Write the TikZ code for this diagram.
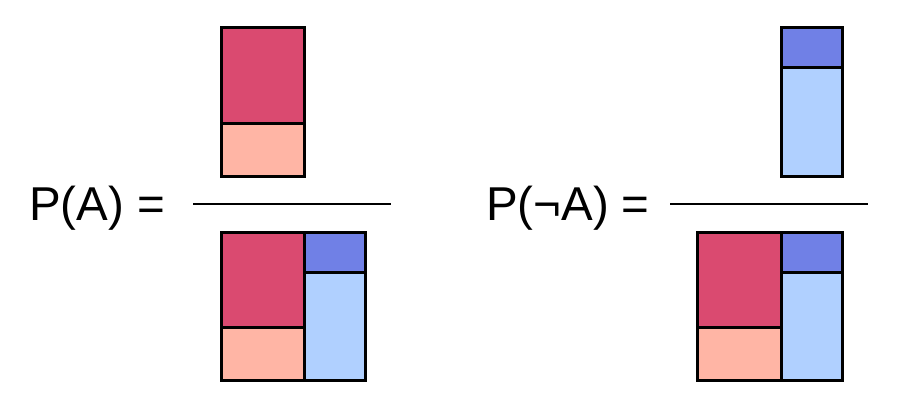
\documentclass[tikz,border=0pt]{standalone}
\usepackage{fontspec}
\setmainfont{Liberation Sans}
\definecolor{cred}{HTML}{DA4A70}
\definecolor{csal}{HTML}{FFB5A5}
\definecolor{cblue}{HTML}{7080E6}
\definecolor{clblue}{HTML}{B0D0FF}
\begin{document}
\begin{tikzpicture}[x=1pt,y=-1pt,
  cell/.style={draw=black,line width=3pt},
  lbl/.style={inner sep=0pt,anchor=base west,font=\fontsize{47.5}{55}\selectfont},
  frac/.style={line width=2.5pt}]
\useasboundingbox (0,0) rectangle (910,412);
% left fraction
\node[lbl] (la) at (29,220) {P(A) =};
\filldraw[cell,fill=cred] (221,28) rectangle (304,123);
\filldraw[cell,fill=csal] (221,123) rectangle (304,176);
\coordinate (l1) at (193,204);
\coordinate (l2) at (391,204);
\draw[frac] (l1) -- (l2);
\filldraw[cell,fill=cred] (221,232) rectangle (304,327);
\filldraw[cell,fill=csal] (221,327) rectangle (304,380);
\filldraw[cell,fill=cblue] (304,232) rectangle (365,272);
\filldraw[cell,fill=clblue] (304,272) rectangle (365,380);
% right fraction
\node[lbl] (ra) at (486,220) {P(¬A)\hspace{-1pt} =};
\filldraw[cell,fill=cblue] (781,28) rectangle (842,68);
\filldraw[cell,fill=clblue] (781,68) rectangle (842,176);
\coordinate (r1) at (670,204);
\coordinate (r2) at (868,204);
\draw[frac] (r1) -- (r2);
\filldraw[cell,fill=cred] (697,232) rectangle (781,327);
\filldraw[cell,fill=csal] (697,327) rectangle (781,380);
\filldraw[cell,fill=cblue] (781,232) rectangle (842,272);
\filldraw[cell,fill=clblue] (781,272) rectangle (842,380);
\end{tikzpicture}
\end{document}
